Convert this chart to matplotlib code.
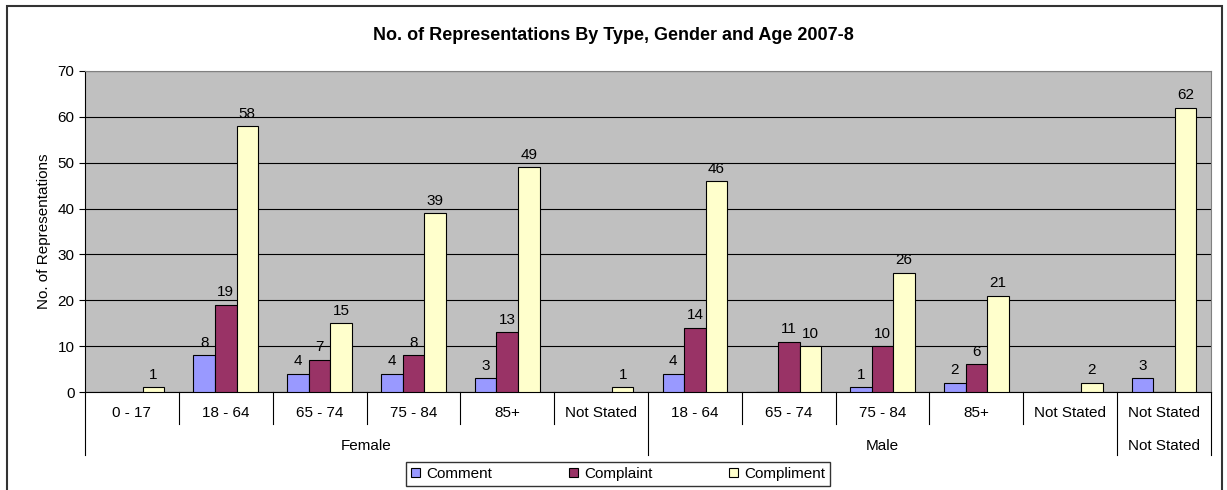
import numpy as np
import matplotlib.pyplot as plt
from matplotlib.patches import Rectangle
from matplotlib.transforms import blended_transform_factory

plt.rcParams['font.family'] = ['Liberation Sans', 'DejaVu Sans']

# data
ages = ['0 - 17', '18 - 64', '65 - 74', '75 - 84', '85+', 'Not Stated',
        '18 - 64', '65 - 74', '75 - 84', '85+', 'Not Stated', 'Not Stated']
genders = ['Female', 'Male', 'Not Stated']
gender_sizes = [6, 5, 1]
comment = [0, 8, 4, 4, 3, 0, 4, 0, 1, 2, 0, 3]
complaint = [0, 19, 7, 8, 13, 0, 14, 11, 10, 6, 0, 0]
compliment = [1, 58, 15, 39, 49, 1, 46, 10, 26, 21, 2, 62]

series = [('Comment', comment, '#9999FF'),
          ('Complaint', complaint, '#993366'),
          ('Compliment', compliment, '#FFFFCC')]

fs = 11

fig = plt.figure(figsize=(12.27, 4.9), dpi=100)
ax = fig.add_axes([85/1227, 98/490, 1126/1227, 321/490])
ax.set_facecolor('#C0C0C0')

x = np.arange(len(ages))
w = 0.23
for i, (name, vals, col) in enumerate(series):
    bars = ax.bar(x + (i - 1) * w, vals, w, color=col, edgecolor='black',
                  linewidth=0.8, label=name, zorder=3)
    for b, v in zip(bars, vals):
        if v > 0:
            ax.text(b.get_x() + b.get_width() / 2, v + 1.2, str(v),
                    ha='center', va='bottom', fontsize=fs)

ax.set_xlim(-0.5, len(ages) - 0.5)
ax.set_ylim(0, 70)
ax.set_yticks(range(0, 71, 10))
ax.yaxis.grid(True, color='black', linewidth=0.8, zorder=1)
ax.set_axisbelow(True)
ax.tick_params(axis='y', labelsize=fs, direction='out', length=4)
ax.set_xticks([])
for s in ['top', 'right']:
    ax.spines[s].set_color('#808080')
ax.spines['left'].set_color('black')
ax.spines['bottom'].set_color('black')
ax.set_ylabel('No. of Representations', fontsize=fs, labelpad=5)

# two-level category axis
tr = blended_transform_factory(ax.transData, ax.transAxes)
for i, lab in enumerate(ages):
    ax.text(i, -0.065, lab, transform=tr, ha='center', va='center', fontsize=fs)
bounds = np.cumsum([0] + gender_sizes) - 0.5
for k in range(len(ages) + 1):
    xb = k - 0.5
    y_end = -0.196 if xb in bounds else -0.1
    ax.plot([xb, xb], [0, y_end], transform=tr, color='black', lw=0.8,
            clip_on=False)
for g, a, b in zip(genders, bounds[:-1], bounds[1:]):
    ax.text((a + b) / 2, -0.168, g, transform=tr, ha='center', va='center',
            fontsize=fs)

fig.text(0.5, 1 - 35/490, 'No. of Representations By Type, Gender and Age 2007-8',
         ha='center', va='center', fontsize=13, fontweight='bold')

fig.legend(loc='center', bbox_to_anchor=(618/1227, 1 - 474/490), ncol=3,
           fontsize=fs, frameon=True, fancybox=False, edgecolor='black',
           handlelength=0.6, handleheight=0.6, columnspacing=5.0,
           handletextpad=0.4, borderpad=0.35)

# outer chart border
fig.patches.append(Rectangle((7/1227, -0.02), 1215/1227, 1.02 - 6/490,
                             transform=fig.transFigure, fill=False,
                             edgecolor='#333333', linewidth=1.5))

fig.savefig('out.png', dpi=100)
